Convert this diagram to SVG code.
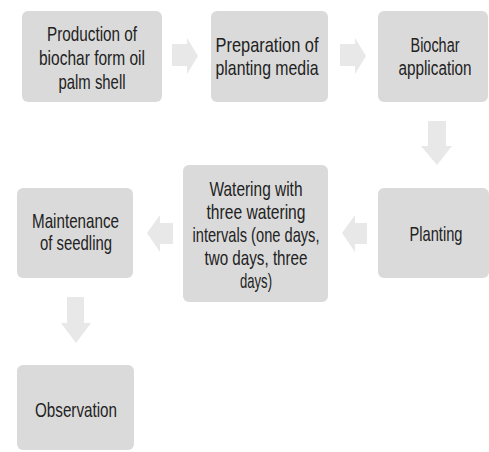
<svg xmlns="http://www.w3.org/2000/svg" width="489" height="452" viewBox="0 0 489 452">
<style>
.box{fill:#dadada;}
.arr{fill:#e8e8e8;}
text{font-family:"Liberation Sans",Arial,sans-serif;font-size:21px;fill:#222222;text-anchor:middle;}
.sm{font-size:20px;}
</style>
<rect width="489" height="452" fill="#ffffff"/>
<g id="connectors">
<path class="arr" d="M172,44 H187 V38 L198,56 L187,74 V66 H172 Z"/>
<path class="arr" d="M340,44 H355 V38 L366,56 L355,74 V66 H340 Z"/>
<path class="arr" d="M428,121 H446 V146 H452 L437,165 L421,146 H428 Z"/>
<path class="arr" d="M367,223 H355 V215 L342,233 L355,252 V244 H367 Z"/>
<path class="arr" d="M173,223 H160 V215 L147,233 L160,252 V244 H173 Z"/>
<path class="arr" d="M67,297 H84 V323 H91 L76,343 L61,323 H67 Z"/>
</g>
<g id="n1"><rect class="box" x="22" y="11" width="140" height="91" rx="6"/>
<text x="92" y="41" textLength="90" lengthAdjust="spacingAndGlyphs">Production of</text>
<text x="92" y="65" textLength="106" lengthAdjust="spacingAndGlyphs">biochar form oil</text>
<text x="92" y="89" textLength="67" lengthAdjust="spacingAndGlyphs">palm shell</text></g>
<g id="n2"><rect class="box" x="211" y="11" width="117" height="91" rx="6"/>
<text x="267" y="52" textLength="103" lengthAdjust="spacingAndGlyphs">Preparation of</text>
<text x="267" y="75" textLength="103" lengthAdjust="spacingAndGlyphs">planting media</text></g>
<g id="n3"><rect class="box" x="378" y="11" width="110" height="91" rx="6"/>
<text class="sm" x="435" y="52" textLength="49" lengthAdjust="spacingAndGlyphs">Biochar</text>
<text class="sm" x="435" y="75" textLength="73" lengthAdjust="spacingAndGlyphs">application</text></g>
<g id="n4"><rect class="box" x="378" y="188" width="111" height="90" rx="6"/>
<text x="436" y="241" textLength="53" lengthAdjust="spacingAndGlyphs">Planting</text></g>
<g id="n5"><rect class="box" x="183" y="165" width="145" height="137" rx="6"/>
<text x="256" y="196" textLength="93" lengthAdjust="spacingAndGlyphs">Watering with</text>
<text x="256" y="219" textLength="99" lengthAdjust="spacingAndGlyphs">three watering</text>
<text x="256" y="242" textLength="127" lengthAdjust="spacingAndGlyphs">intervals (one days,</text>
<text x="256" y="265" textLength="103" lengthAdjust="spacingAndGlyphs">two days, three</text>
<text x="256" y="288" textLength="32" lengthAdjust="spacingAndGlyphs">days)</text></g>
<g id="n6"><rect class="box" x="17" y="188" width="116" height="90" rx="6"/>
<text x="75.5" y="228" textLength="87" lengthAdjust="spacingAndGlyphs">Maintenance</text>
<text x="76" y="250" textLength="72" lengthAdjust="spacingAndGlyphs">of seedling</text></g>
<g id="n7"><rect class="box" x="17" y="365" width="117" height="85" rx="6"/>
<text x="76" y="417" textLength="82" lengthAdjust="spacingAndGlyphs">Observation</text></g>
</svg>
